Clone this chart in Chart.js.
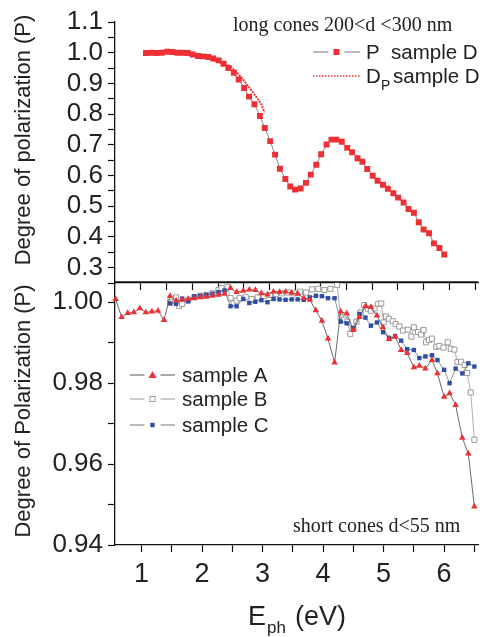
<!DOCTYPE html>
<html>
<head>
<meta charset="utf-8">
<script src="https://cdn.jsdelivr.net/npm/chart.js@4.4.1/dist/chart.umd.min.js"></script>
<style>
  body { margin: 0; background: #fff; width: 483px; height: 637px; overflow: hidden; position: relative; }
  canvas { position: absolute; left: 0; }
  #graficoTopo { top: 0; }
  #graficoBaixo { top: 275px; }
</style>
</head>
<body>
<canvas id="graficoTopo" width="483" height="290"></canvas>
<canvas id="graficoBaixo" width="483" height="362"></canvas>
<script>
// painel de cima: cones longos, amostra D
var energiaP = [1.07, 1.16, 1.24, 1.33, 1.42, 1.51, 1.59, 1.67, 1.76, 1.84, 1.93, 2.01, 2.10, 2.18, 2.27, 2.35, 2.43, 2.52, 2.60, 2.69, 2.77, 2.86, 2.95, 3.03, 3.12, 3.20, 3.28, 3.37, 3.45, 3.53, 3.62, 3.71, 3.79, 3.88, 3.96, 4.05, 4.13, 4.21, 4.30, 4.39, 4.47, 4.56, 4.64, 4.72, 4.81, 4.89, 4.98, 5.06, 5.15, 5.23, 5.32, 5.40, 5.49, 5.57, 5.65, 5.74, 5.82, 5.91, 5.99]
var polP = [0.999, 1.000, 0.999, 1.000, 1.003, 1.002, 1.000, 1.000, 0.999, 0.994, 0.989, 0.988, 0.986, 0.981, 0.975, 0.964, 0.950, 0.935, 0.913, 0.885, 0.857, 0.832, 0.794, 0.755, 0.712, 0.668, 0.622, 0.589, 0.564, 0.554, 0.558, 0.576, 0.603, 0.635, 0.669, 0.701, 0.717, 0.717, 0.710, 0.690, 0.676, 0.656, 0.645, 0.621, 0.599, 0.583, 0.570, 0.557, 0.542, 0.528, 0.512, 0.491, 0.479, 0.448, 0.424, 0.412, 0.379, 0.364, 0.343]
var energiaDp = [1.95, 2.05, 2.15, 2.25, 2.35, 2.45, 2.55, 2.65, 2.75, 2.85, 2.93, 2.97, 3.00, 3.03]
var polDp = [0.989, 0.984, 0.978, 0.971, 0.965, 0.957, 0.940, 0.918, 0.893, 0.867, 0.845, 0.834, 0.818, 0.806]

// painel de baixo: cones curtos, amostras A, B, C
var energiaA = [0.57, 0.67, 0.77, 0.87, 0.97, 1.07, 1.17, 1.27, 1.37, 1.47, 1.57, 1.67, 1.77, 1.87, 1.97, 2.07, 2.17, 2.27, 2.37, 2.47, 2.57, 2.68, 2.78, 2.88, 2.98, 3.08, 3.18, 3.28, 3.38, 3.48, 3.58, 3.68, 3.78, 3.88, 3.98, 4.08, 4.19, 4.29, 4.39, 4.50, 4.60, 4.70, 4.79, 4.89, 4.99, 5.09, 5.19, 5.29, 5.39, 5.50, 5.59, 5.69, 5.80, 5.89, 6.00, 6.09, 6.19, 6.30, 6.40, 6.50]
var polA = [1.0008, 0.9963, 0.9973, 0.9975, 0.9985, 0.9975, 0.9977, 0.9979, 0.9956, 1.0015, 1.0004, 1.0006, 1.0008, 1.0010, 1.0012, 1.0013, 1.0016, 1.0018, 1.0021, 1.0035, 1.0025, 1.0028, 1.0031, 1.0030, 1.0022, 1.0019, 1.0026, 1.0025, 1.0026, 1.0023, 1.0021, 1.0010, 1.0006, 0.9980, 0.9954, 0.9910, 0.9851, 0.9977, 0.9972, 0.9931, 0.9963, 0.9990, 0.9988, 0.9967, 0.9938, 0.9909, 0.9915, 0.9882, 0.9874, 0.9839, 0.9843, 0.9836, 0.9857, 0.9824, 0.9766, 0.9775, 0.9746, 0.9665, 0.9626, 0.9495]
var energiaB = [1.47, 1.57, 1.62, 1.67, 1.77, 1.87, 1.97, 2.07, 2.17, 2.27, 2.32, 2.42, 2.47, 2.52, 2.57, 2.62, 2.72, 2.82, 2.92, 3.02, 3.12, 3.22, 3.32, 3.42, 3.52, 3.62, 3.72, 3.82, 3.92, 4.02, 4.12, 4.23, 4.29, 4.35, 4.40, 4.45, 4.50, 4.55, 4.62, 4.68, 4.74, 4.79, 4.85, 4.91, 4.96, 5.00, 5.04, 5.09, 5.15, 5.20, 5.26, 5.32, 5.40, 5.46, 5.50, 5.57, 5.62, 5.66, 5.70, 5.75, 5.80, 5.87, 5.92, 5.99, 6.06, 6.11, 6.17, 6.22, 6.28, 6.34, 6.38, 6.44, 6.50]
var polB = [1.0000, 1.0012, 0.9991, 0.9996, 1.0006, 1.0012, 1.0016, 1.0018, 1.0022, 1.0030, 1.0035, 1.0038, 1.0010, 0.9998, 1.0004, 1.0010, 1.0013, 1.0008, 1.0012, 1.0015, 1.0018, 1.0020, 1.0022, 1.0024, 1.0022, 1.0026, 1.0024, 1.0032, 1.0033, 1.0030, 1.0033, 1.0043, 0.9963, 0.9957, 0.9952, 0.9922, 0.9935, 0.9952, 0.9975, 0.9993, 0.9984, 0.9979, 0.9985, 0.9996, 0.9997, 0.9950, 0.9965, 0.9959, 0.9953, 0.9946, 0.9940, 0.9930, 0.9932, 0.9915, 0.9938, 0.9926, 0.9920, 0.9931, 0.9901, 0.9907, 0.9910, 0.9890, 0.9892, 0.9888, 0.9901, 0.9885, 0.9883, 0.9852, 0.9853, 0.9845, 0.9825, 0.9777, 0.9660]
var energiaC = [1.47, 1.57, 1.67, 1.77, 1.87, 1.97, 2.07, 2.17, 2.27, 2.37, 2.47, 2.57, 2.68, 2.78, 2.88, 2.98, 3.08, 3.18, 3.28, 3.38, 3.48, 3.58, 3.68, 3.78, 3.88, 3.98, 4.08, 4.19, 4.29, 4.39, 4.50, 4.60, 4.70, 4.79, 4.89, 4.99, 5.09, 5.19, 5.29, 5.39, 5.50, 5.59, 5.69, 5.80, 5.89, 6.00, 6.09, 6.19, 6.30, 6.40, 6.50]
var polC = [0.9997, 0.9996, 1.0009, 1.0002, 1.0015, 1.0016, 1.0018, 1.0021, 1.0025, 1.0029, 0.9990, 0.9990, 1.0008, 0.9998, 1.0001, 1.0005, 1.0000, 1.0008, 1.0007, 1.0006, 1.0007, 1.0007, 1.0006, 1.0012, 1.0016, 1.0015, 1.0010, 1.0010, 0.9952, 0.9948, 0.9936, 0.9971, 0.9962, 0.9942, 0.9950, 0.9926, 0.9912, 0.9916, 0.9905, 0.9884, 0.9882, 0.9862, 0.9866, 0.9869, 0.9857, 0.9833, 0.9800, 0.9836, 0.9824, 0.9849, 0.9841]

// ticks e rotulos
var topoYRotulos = ['0.3', '0.4', '0.5', '0.6', '0.7', '0.8', '0.9', '1.0', '1.1']
var topoYMenores = [0.25, 0.35, 0.45, 0.55, 0.65, 0.75, 0.85, 0.95, 1.05]
var topoXMarcas = [0.98, 1.41, 1.83, 2.26, 2.68, 3.10, 3.53, 3.95, 4.38, 4.80, 5.22, 5.65, 6.07, 6.50]
var baixoYRotulos = ['0.94', '0.96', '0.98', '1.00']
var baixoYMenores = [0.95, 0.97, 0.99]
var baixoXRotulos = ['1', '2', '3', '4', '5', '6']
var baixoXMenores = [1.5, 2.5, 3.5, 4.5, 5.5, 6.5]

var VERMELHO = '#ee3034'
var AZUL = '#2f4fa6'
var CINZA = '#9a9a9a'
var fonteSans = "'Liberation Sans', Arial, sans-serif"
var fonteSerif = "'Liberation Serif', 'Times New Roman', serif"

function pontos(xs, ys) {
    return xs.map(function (x, i) { return { x: x, y: ys[i] } })
}

function marcasDe(rotulos, menores) {
    var vals = rotulos.map(Number).concat(menores)
    vals.sort(function (a, b) { return a - b })
    return vals.map(function (v) { return { value: v } })
}

function rotuloDe(rotulos, v) {
    var achado = rotulos.find(function (r) { return Math.abs(Number(r) - v) < 1e-9 })
    return achado || ''
}

// tira o espaco extra que o Chart.js reserva para meio rotulo nas pontas
function semFolga(scale) {
    scale.paddingTop = 0
    scale.paddingBottom = 0
    scale.paddingLeft = 0
    scale.paddingRight = 0
}

function eixoComum() {
    return {
        border: { display: true, color: '#111', width: 1.3 },
        grid: { drawOnChartArea: false, drawTicks: true, tickLength: 7, tickColor: '#111', tickWidth: 1.2 }
    }
}

function desenhaMarcador(ctx, tipo, x, y, cor, tam) {
    ctx.save()
    if (tipo === 'tri') {
        ctx.fillStyle = cor
        ctx.beginPath()
        ctx.moveTo(x, y - tam)
        ctx.lineTo(x + tam, y + tam * 0.75)
        ctx.lineTo(x - tam, y + tam * 0.75)
        ctx.closePath()
        ctx.fill()
    } else if (tipo === 'vazio') {
        ctx.fillStyle = '#fff'
        ctx.strokeStyle = cor
        ctx.lineWidth = 1
        ctx.fillRect(x - tam, y - tam, tam * 2, tam * 2)
        ctx.strokeRect(x - tam, y - tam, tam * 2, tam * 2)
    } else {
        ctx.fillStyle = cor
        ctx.fillRect(x - tam, y - tam, tam * 2, tam * 2)
    }
    ctx.restore()
}

function linhaLegenda(ctx, x1, x2, y, corLinha, tipo, corMarca, tam) {
    var meio = (x1 + x2) / 2
    ctx.save()
    ctx.strokeStyle = corLinha
    ctx.lineWidth = 1
    ctx.beginPath()
    ctx.moveTo(x1, y); ctx.lineTo(meio - 8, y)
    ctx.moveTo(meio + 8, y); ctx.lineTo(x2, y)
    ctx.stroke()
    ctx.restore()
    desenhaMarcador(ctx, tipo, meio, y, corMarca, tam)
}

function tituloY(ctx, texto, x, y) {
    ctx.save()
    ctx.translate(x, y)
    ctx.rotate(-Math.PI / 2)
    ctx.font = '22px ' + fonteSans
    ctx.fillStyle = '#222'
    ctx.textAlign = 'center'
    ctx.textBaseline = 'middle'
    ctx.fillText(texto, 0, 0)
    ctx.restore()
}

var textosTopo = {
    id: 'textosTopo',
    afterDraw: function (chart) {
        var ctx = chart.ctx
        ctx.save()
        tituloY(ctx, 'Degree of polarization (P)', 24, 140)

        ctx.fillStyle = '#222'
        ctx.font = '20px ' + fonteSerif
        ctx.textAlign = 'left'
        ctx.textBaseline = 'alphabetic'
        ctx.fillText('long cones 200<d <300 nm', 233, 31)

        linhaLegenda(ctx, 313, 360, 52, '#777', 'quadrado', VERMELHO, 3)
        ctx.font = '20.5px ' + fonteSans
        ctx.fillStyle = '#222'
        ctx.fillText('P  sample D', 366, 59)

        ctx.strokeStyle = VERMELHO
        ctx.lineWidth = 1.5
        ctx.setLineDash([1.5, 1.5])
        ctx.beginPath()
        ctx.moveTo(313, 76); ctx.lineTo(360, 76)
        ctx.stroke()
        ctx.setLineDash([])
        ctx.fillText('D', 366, 83)
        ctx.font = '14px ' + fonteSans
        ctx.fillText('P', 381, 90)
        ctx.font = '20.5px ' + fonteSans
        ctx.fillText('sample D', 393, 83)
        ctx.restore()
    }
}

var textosBaixo = {
    id: 'textosBaixo',
    afterDraw: function (chart) {
        var ctx = chart.ctx
        var area = chart.chartArea
        ctx.save()
        // borda de cima do painel
        ctx.strokeStyle = '#111'
        ctx.lineWidth = 1.3
        ctx.beginPath()
        ctx.moveTo(area.left, area.top)
        ctx.lineTo(area.right, area.top)
        ctx.stroke()

        tituloY(ctx, 'Degree of Polarization (P)', 24, 136)

        ctx.fillStyle = '#222'
        ctx.font = '20px ' + fonteSerif
        ctx.textAlign = 'left'
        ctx.textBaseline = 'alphabetic'
        ctx.fillText('short cones d<55 nm', 293, 257)

        linhaLegenda(ctx, 130, 175, 100, '#555', 'tri', VERMELHO, 4)
        linhaLegenda(ctx, 130, 175, 124, '#999', 'vazio', CINZA, 2.5)
        linhaLegenda(ctx, 130, 175, 150, '#777', 'quadrado', AZUL, 2.2)
        ctx.font = '20.5px ' + fonteSans
        ctx.fillStyle = '#222'
        ctx.fillText('sample A', 182, 107)
        ctx.fillText('sample B', 182, 131)
        ctx.fillText('sample C', 182, 157)

        // titulo do eixo x: E_ph (eV)
        ctx.font = '27px ' + fonteSans
        ctx.fillText('E', 248, 350)
        ctx.font = '17px ' + fonteSans
        ctx.fillText('ph', 267, 358)
        ctx.font = '27px ' + fonteSans
        ctx.fillText('(eV)', 295, 350)
        ctx.restore()
    }
}

new Chart(document.getElementById('graficoTopo'), {
    type: 'scatter',
    data: {
        datasets: [{
            label: 'P  sample D',
            data: pontos(energiaP, polP),
            showLine: true,
            borderColor: '#666',
            borderWidth: 0.8,
            pointStyle: 'rect',
            pointRadius: 4.2,
            pointBackgroundColor: VERMELHO,
            pointBorderColor: VERMELHO,
            pointBorderWidth: 0
        }, {
            label: 'DP sample D',
            data: pontos(energiaDp, polDp),
            showLine: true,
            borderColor: VERMELHO,
            borderWidth: 2,
            borderDash: [2, 1],
            pointRadius: 0
        }]
    },
    options: {
        responsive: false,
        animation: false,
        layout: { padding: { top: 22, right: 0, bottom: 0, left: 0 } },
        plugins: { legend: { display: false }, tooltip: { enabled: false } },
        scales: {
            x: Object.assign(eixoComum(), {
                type: 'linear',
                min: 0.56,
                max: 6.56,
                afterBuildTicks: function (scale) {
                    scale.ticks = topoXMarcas.map(function (v) { return { value: v } })
                },
                afterFit: function (scale) { scale.height = 7; semFolga(scale) },
                ticks: { display: false }
            }),
            y: Object.assign(eixoComum(), {
                min: 0.25,
                max: 1.1,
                afterBuildTicks: function (scale) {
                    scale.ticks = marcasDe(topoYRotulos, topoYMenores)
                },
                afterFit: function (scale) { scale.width = 115; semFolga(scale) },
                ticks: {
                    autoSkip: false,
                    padding: 5,
                    color: '#222',
                    font: { family: fonteSans, size: 26 },
                    callback: function (v) { return rotuloDe(topoYRotulos, v) }
                }
            })
        }
    },
    plugins: [textosTopo]
})

new Chart(document.getElementById('graficoBaixo'), {
    type: 'scatter',
    data: {
        datasets: [{
            label: 'sample A',
            data: pontos(energiaA, polA),
            showLine: true,
            borderColor: '#444',
            borderWidth: 0.8,
            pointStyle: 'triangle',
            pointRadius: 3.8,
            pointBackgroundColor: VERMELHO,
            pointBorderColor: VERMELHO,
            pointBorderWidth: 0,
            clip: false
        }, {
            label: 'sample C',
            data: pontos(energiaC, polC),
            showLine: true,
            borderColor: '#777',
            borderWidth: 0.8,
            pointStyle: 'rect',
            pointRadius: 3.1,
            pointBackgroundColor: AZUL,
            pointBorderColor: AZUL,
            pointBorderWidth: 0,
            clip: false
        }, {
            label: 'sample B',
            data: pontos(energiaB, polB),
            showLine: true,
            borderColor: '#999',
            borderWidth: 0.8,
            pointStyle: 'rect',
            pointRadius: 3.6,
            pointBackgroundColor: '#fff',
            pointBorderColor: CINZA,
            pointBorderWidth: 1,
            clip: false
        }]
    },
    options: {
        responsive: false,
        animation: false,
        layout: { padding: { top: 7, right: 0, bottom: 0, left: 0 } },
        plugins: { legend: { display: false }, tooltip: { enabled: false } },
        scales: {
            x: Object.assign(eixoComum(), {
                type: 'linear',
                min: 0.56,
                max: 6.56,
                afterBuildTicks: function (scale) {
                    scale.ticks = marcasDe(baixoXRotulos, baixoXMenores)
                },
                afterFit: function (scale) { scale.height = 92; semFolga(scale) },
                ticks: {
                    autoSkip: false,
                    maxRotation: 0,
                    padding: 6,
                    color: '#222',
                    font: { family: fonteSans, size: 27 },
                    callback: function (v) { return rotuloDe(baixoXRotulos, v) }
                }
            }),
            y: Object.assign(eixoComum(), {
                min: 0.94,
                max: 1.005,
                afterBuildTicks: function (scale) {
                    scale.ticks = marcasDe(baixoYRotulos, baixoYMenores)
                },
                afterFit: function (scale) { scale.width = 115; semFolga(scale) },
                ticks: {
                    autoSkip: false,
                    padding: 5,
                    color: '#222',
                    font: { family: fonteSans, size: 26 },
                    callback: function (v) { return rotuloDe(baixoYRotulos, v) }
                }
            })
        }
    },
    plugins: [textosBaixo]
})
</script>
</body>
</html>
